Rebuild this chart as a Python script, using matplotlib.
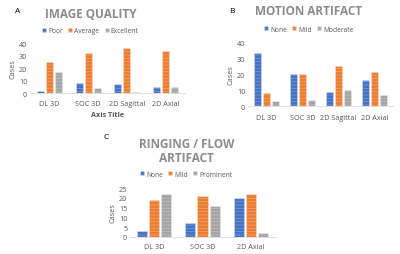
import matplotlib.pyplot as plt
import numpy as np

plt.rcParams['font.family'] = ['Open Sans', 'DejaVu Sans']
plt.rcParams['hatch.linewidth'] = 0.5

# -------------------- Data -------------------- #
a_categories = ["DL 3D", "SOC 3D", "2D Sagittal", "2D Axial"]
a_series = ["Poor", "Average", "Excellent"]
a_poor = [2, 8, 7, 5]
a_average = [25, 32, 36, 34]
a_excellent = [17, 4, 1, 5]

b_categories = ["DL 3D", "SOC 3D", "2D Sagittal", "2D Axial"]
b_series = ["None", "Mild", "Moderate"]
b_none = [33, 20, 9, 16]
b_mild = [8, 20, 25, 21]
b_moderate = [3, 4, 10, 7]

c_categories = ["DL 3D", "SOC 3D", "2D Axial"]
c_series = ["None", "Mild", "Prominent"]
c_none = [3, 7, 20]
c_mild = [19, 21, 22]
c_prominent = [22, 16, 2]

COLORS = ["#4472C4", "#ED7D31", "#A5A5A5"]
TEXT = "#595959"
TITLE = "#8C8C8C"


def draw_panel(ax, categories, series, values, ymax, ystep, width, step,
               xpad, xlabel=None):
    x = np.arange(len(categories))
    for i, (name, vals) in enumerate(zip(series, values)):
        ax.bar(x + (i - 1) * step, vals, width, color=COLORS[i], label=name,
               hatch="-----", edgecolor=(1, 1, 1, 0.3), linewidth=0.6)
    ax.set_xlim(-0.5, len(categories) - 0.5)
    ax.set_ylim(0, ymax)
    ax.set_yticks(np.arange(0, ymax + 1, ystep))
    ax.set_xticks(x)
    ax.set_xticklabels(categories)
    ax.tick_params(axis="both", length=0, labelsize=5.2, colors=TEXT, pad=2)
    ax.tick_params(axis="x", pad=xpad)
    for s in ["top", "right", "left"]:
        ax.spines[s].set_visible(False)
    ax.spines["bottom"].set_color("#D9D9D9")
    ax.spines["bottom"].set_linewidth(0.6)
    ax.set_ylabel("Cases", fontsize=5.2, color=TEXT, labelpad=2)
    if xlabel:
        ax.set_xlabel(xlabel, fontsize=5.2, color=TEXT, fontweight="bold",
                      labelpad=3)


fig = plt.figure(figsize=(4.0, 2.55), dpi=100)

ax_a = fig.add_axes([0.075, 0.631, 0.3875, 0.196])
draw_panel(ax_a, a_categories, a_series, [a_poor, a_average, a_excellent],
           40, 10, 0.18, 0.23, 5, xlabel="Axis Title")

ax_b = fig.add_axes([0.62, 0.580, 0.3625, 0.251])
draw_panel(ax_b, b_categories, b_series, [b_none, b_mild, b_moderate],
           40, 10, 0.19, 0.25, 6)

ax_c = fig.add_axes([0.325, 0.0667, 0.3625, 0.192])
draw_panel(ax_c, c_categories, c_series, [c_none, c_mild, c_prominent],
           25, 5, 0.21, 0.25, 4)

# titles, legends, panel letters (centred on the whole chart area)
for ax, title, cx, ty, ly in [
        (ax_a, "IMAGE QUALITY", 0.226, 0.945, 0.875),
        (ax_b, "MOTION ARTIFACT", 0.772, 0.953, 0.882),
        (ax_c, "RINGING / FLOW\nARTIFACT", 0.466, 0.405, 0.313)]:
    fig.text(cx, ty, title, ha="center", va="center", fontsize=8.5,
             fontweight="bold", color=TITLE, linespacing=1.1)
    handles, labels = ax.get_legend_handles_labels()
    fig.legend(handles, labels, loc="center", bbox_to_anchor=(cx, ly),
               ncol=3, frameon=False, fontsize=4.8, handlelength=0.6,
               handleheight=0.6, handletextpad=0.3, columnspacing=0.8,
               labelcolor=TEXT)

fig.text(0.0375, 0.953, "A", fontsize=6, color="black", va="center")
fig.text(0.5725, 0.953, "B", fontsize=6, color="black", va="center")
fig.text(0.26, 0.459, "C", fontsize=6, color="black", va="center")

fig.savefig("out.png", dpi=100)
